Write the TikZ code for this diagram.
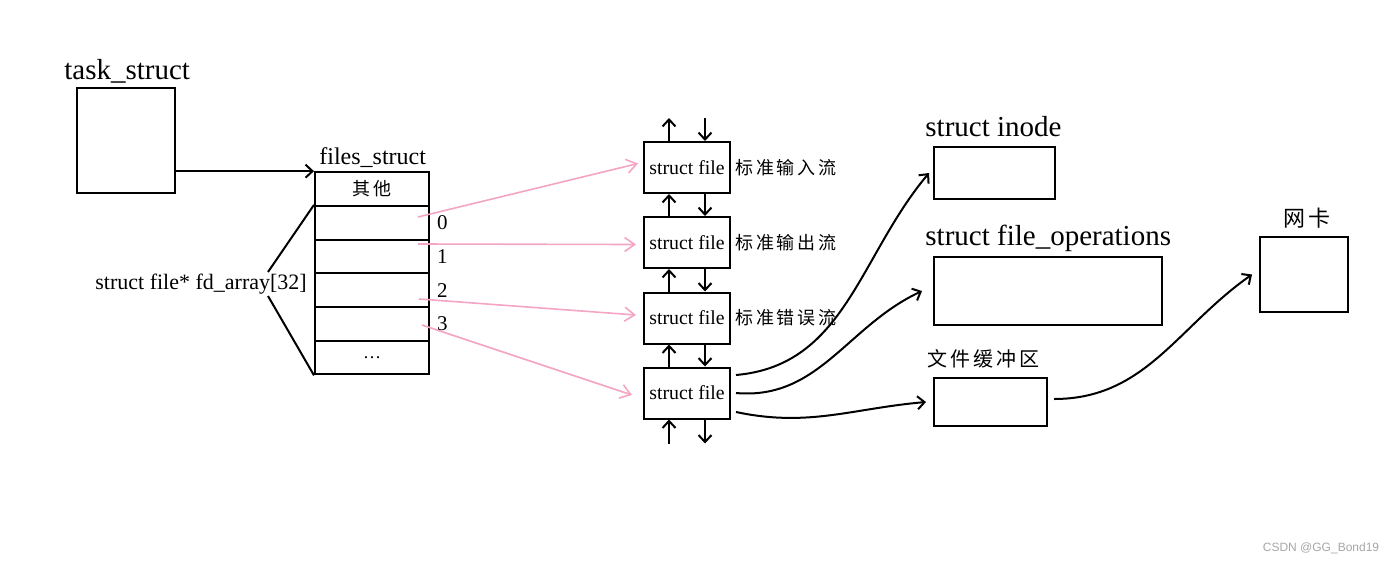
\documentclass[tikz,border=0pt]{standalone}
\usepackage{fontspec}
\setmainfont{Liberation Serif}
\newfontfamily\cjk[LetterSpace=15]{Noto Sans CJK SC}
\newfontfamily\wmfont{Liberation Sans}
\usetikzlibrary{arrows.meta}
\definecolor{linkpink}{RGB}{244,165,196}

\tikzset{
  box/.style={draw, line width=1pt, inner sep=0pt},
  cell/.style={box, minimum width=57pt, minimum height=16.85pt, font=\fontsize{9}{11}\selectfont},
  filebox/.style={box, minimum width=43pt, minimum height=25.5pt, font=\fontsize{9.9}{12}\selectfont},
  title/.style={font=\fontsize{14.5}{17}\selectfont, inner sep=0pt},
  stream/.style={font=\cjk\fontsize{9}{11}\selectfont, inner sep=2pt},
  cjklbl/.style={font=\cjk\fontsize{10}{12}\selectfont, inner sep=0pt},
  idx/.style={font=\fontsize{10.5}{12}\selectfont},
  arr/.style={-{Straight Barb[length=3.5pt,width=6.5pt]}, line width=1pt},
  ptr/.style={-{Straight Barb[length=5pt,width=7pt]}, line width=0.8pt, linkpink},
}

\begin{document}
\begin{tikzpicture}[x=0.5pt,y=-0.5pt]
  \useasboundingbox (0,0) rectangle (1400,562);

  % task_struct
  \node[title, anchor=base west] (tasklbl) at (64,79) {task\_struct};
  \node[box, minimum width=49pt, minimum height=52.5pt] (task) at (126,140.5) {};

  % files_struct
  \foreach \n/\t [count=\i from 0] in {other/{\cjk 其他},fd0/,fd1/,fd2/,fd3/,more/\dots} {
    \node[cell] (\n) at (372,189+33.7*\i) {\t};
  }
  \node[font=\fontsize{12}{14}\selectfont, anchor=base west, inner sep=0pt] (fileslbl) at (319,164) {files\_struct};
  \draw[arr] (task.east |- other.north) -- (other.north west);
  \foreach \n/\k in {fd0/0,fd1/1,fd2/2,fd3/3}
    \node[idx, anchor=west] (idx\k) at (\n.east) {\k};

  % fd_array
  \node[anchor=west, font=\fontsize{11}{13}\selectfont, inner sep=0pt] (fdlbl) at (95,284) {struct file* fd\_array[32]};
  \coordinate (fdtop) at (268,272);
  \coordinate (fdbot) at (268,296);
  \draw[line width=1pt] (fdtop) -- (fd0.north west);
  \draw[line width=1pt] (fdbot) -- (more.south west);

  % struct file
  \foreach \k/\y in {1/167.5,2/242.5,3/318,4/393}
    \node[filebox] (f\k) at (687,\y) {struct file};
  \node[stream, anchor=west] (stdin) at (f1.east) {标准输入流};
  \node[stream, anchor=west] (stdout) at (f2.east) {标准输出流};
  \node[stream, anchor=west] (stderr) at (f3.east) {标准错误流};

  \foreach \a/\b in {f1/f2,f2/f3,f3/f4} {
    \draw[arr] ([xshift=-9pt]\b.north) -- ([xshift=-9pt]\a.south);
    \draw[arr] ([xshift=9pt]\a.south) -- ([xshift=9pt]\b.north);
  }
  \draw[arr] ([xshift=-9pt]f1.north) -- ++(0,-23);
  \draw[arr] ([xshift=9pt]f1.north) ++(0,-23) -- ([xshift=9pt]f1.north);
  \draw[arr] ([xshift=-9pt]f4.south) ++(0,24) -- ([xshift=-9pt]f4.south);
  \draw[arr] ([xshift=9pt]f4.south) -- ++(0,24);

  % fd -> struct file
  \coordinate (p0) at (418,217);
  \coordinate (p1) at (418,244);
  \coordinate (p2) at (419,299);
  \coordinate (p3) at (422,325);
  \draw[ptr] (p0) -- ([shift={(-2.5pt,2pt)}]f1.west);
  \draw[ptr] (p1) -- ([shift={(-3.5pt,-1pt)}]f2.west);
  \draw[ptr] (p2) -- ([shift={(-3.5pt,1.5pt)}]f3.west);
  \draw[ptr] (p3) -- ([shift={(-5.5pt,-1pt)}]f4.west);

  % inode, file_operations, buffer, nic
  \node[box, minimum width=60.5pt, minimum height=26pt] (inode) at (994.5,173) {};
  \node[title, anchor=base west] (inodelbl) at (925,136) {struct inode};
  \node[box, minimum width=114pt, minimum height=34pt] (ops) at (1048,291) {};
  \node[title, anchor=base west] (opslbl) at (925,245) {struct file\_operations};
  \node[box, minimum width=56.5pt, minimum height=24pt] (buf) at (990.5,402) {};
  \node[cjklbl, anchor=west] (buflbl) at (927,359) {文件缓冲区};
  \node[box, minimum width=44pt, minimum height=37.5pt] (nic) at (1304,274.5) {};
  \node[cjklbl, font=\cjk\fontsize{11}{13}\selectfont] (niclbl) at (1307,218) {网卡};

  \draw[arr] ([shift={(2.5pt,9pt)}]f4.east) to[out=5,in=230] ([xshift=-2pt]inode.west);
  \draw[arr] ([xshift=2.5pt]f4.east) to[out=-5,in=205] ([xshift=-5.5pt]ops.west);
  \draw[arr] ([shift={(2.5pt,-9.5pt)}]f4.east) to[out=-12,in=185] ([xshift=-3.5pt]buf.west);
  \draw[arr] ([shift={(3pt,1.5pt)}]buf.east) to[out=0,in=215] ([xshift=-3.5pt]nic.west);

  \node[font=\wmfont\fontsize{6}{7}\selectfont, text=black!35, inner sep=0pt] (mark) at (1321,548) {CSDN @GG\_Bond19};
\end{tikzpicture}
\end{document}
